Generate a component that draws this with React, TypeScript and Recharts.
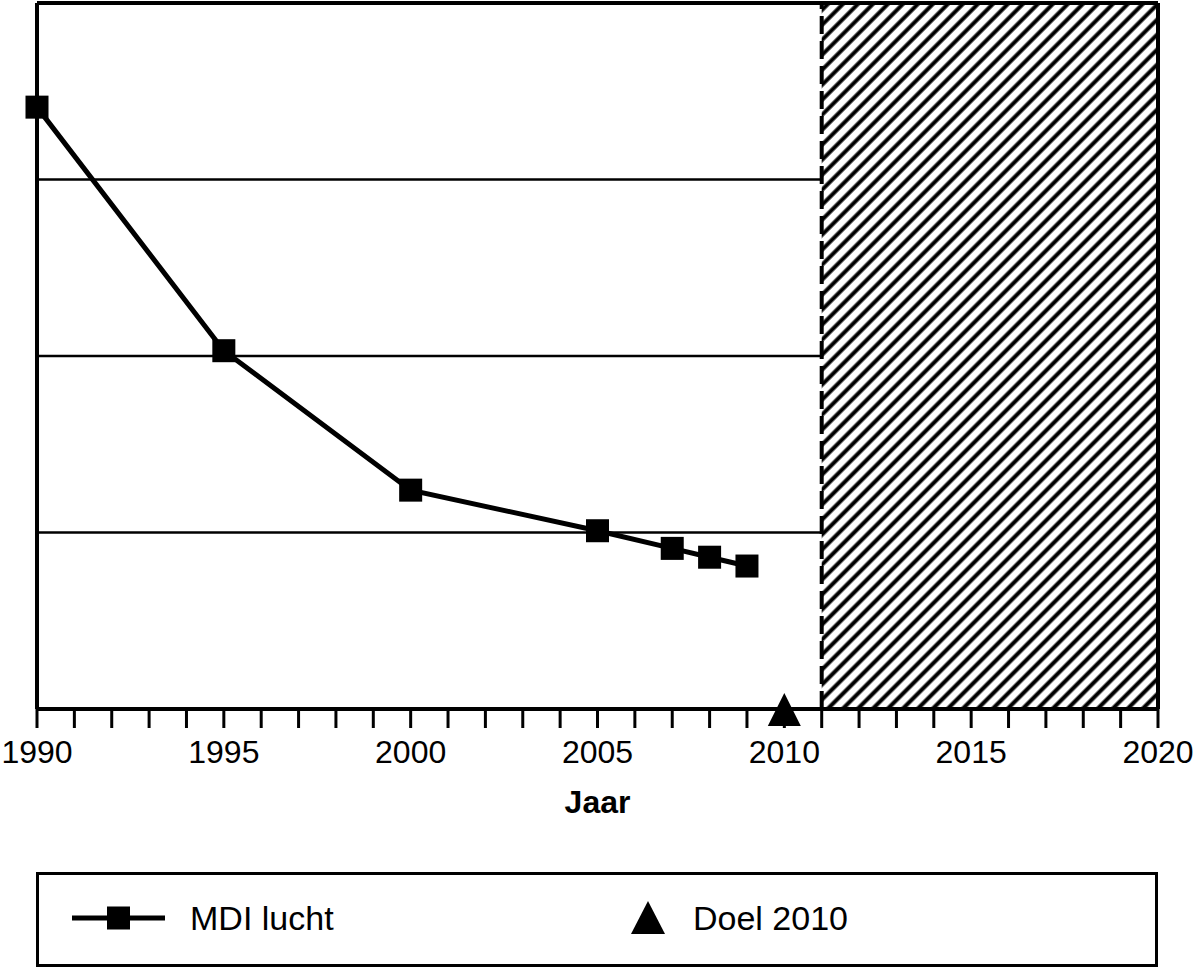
import { ComposedChart, Line, Scatter, XAxis, YAxis, CartesianGrid, ReferenceArea, ReferenceLine, Legend } from 'recharts'

// MDI lucht, gemeten jaren
const mdiYears = [1990, 1995, 2000, 2005, 2007, 2008, 2009]
const mdiValues = [3.41, 2.03, 1.24, 1.01, 0.91, 0.86, 0.81]

// doelstelling
const doelYears = [2010]
const doelValues = [0]

const yearTicks = Array.from({ length: 31 }, (_, i) => 1990 + i)
const gridTicks = [0, 1, 2, 3, 4]

const FONT = '"Liberation Sans", Arial, sans-serif'

const mdiData = mdiYears.map((year, i) => ({ year, mdi: mdiValues[i] }))
const doelData = doelYears.map((year, i) => ({ year, doel: doelValues[i] }))

const SquareDot = (props: { cx?: number; cy?: number; index?: number }) => {
  const { cx = 0, cy = 0, index } = props
  return <rect key={`sq-${index}`} x={cx - 11.5} y={cy - 11.5} width={23} height={23} fill="#000" />
}

const Triangle = (props: { cx?: number; cy?: number }) => {
  const { cx = 0, cy = 0 } = props
  return <polygon points={`${cx},${cy - 16} ${cx - 16.5},${cy + 17} ${cx + 16.5},${cy + 17}`} fill="#000" />
}

const LegendBox = () => (
  <div
    style={{
      position: 'relative',
      height: 95,
      boxSizing: 'border-box',
      border: '3px solid #000',
      fontFamily: FONT,
      fontSize: 34,
      color: '#000',
    }}
  >
    <svg width={95} height={30} style={{ position: 'absolute', left: 33, top: 28 }}>
      <line x1={0} y1={15} x2={93} y2={15} stroke="#000" strokeWidth={5} />
      <rect x={35} y={3.5} width={23} height={23} fill="#000" />
    </svg>
    <span style={{ position: 'absolute', left: 151, top: 24, lineHeight: '38px' }}>MDI lucht</span>
    <svg width={34} height={34} style={{ position: 'absolute', left: 592, top: 26 }}>
      <polygon points="17,0 0,33 34,33" fill="#000" />
    </svg>
    <span style={{ position: 'absolute', left: 654, top: 24, lineHeight: '38px' }}>Doel 2010</span>
  </div>
)

export default function App() {
  return (
    <div style={{ position: 'absolute', left: 0, top: 0 }}>
      <ComposedChart
        width={1196}
        height={969}
        margin={{ top: 3, right: 38, bottom: 2, left: 36 }}
        style={{ fontFamily: FONT }}
      >
        <defs>
          <pattern id="hatch" patternUnits="userSpaceOnUse" width={10.6} height={10.6} patternTransform="rotate(45)">
            <rect width={10.6} height={10.6} fill="#fff" />
            <line x1={5.3} y1={0} x2={5.3} y2={10.6} stroke="#000" strokeWidth={4} />
          </pattern>
        </defs>
        <CartesianGrid vertical={false} stroke="#000" strokeWidth={2.5} />
        <XAxis
          type="number"
          dataKey="year"
          domain={[1990, 2020]}
          ticks={yearTicks}
          interval={0}
          height={163}
          tickSize={19}
          tickMargin={12}
          axisLine={{ stroke: '#000', strokeWidth: 4 }}
          tickLine={{ stroke: '#000', strokeWidth: 3 }}
          tick={{ fill: '#000', fontSize: 32, fontFamily: FONT }}
          tickFormatter={(v: number) => (v % 5 === 0 ? String(v) : '')}
          label={{ value: 'Jaar', position: 'insideTop', offset: 81, fill: '#000', fontSize: 32, fontWeight: 'bold', fontFamily: FONT }}
        />
        <YAxis
          type="number"
          domain={[0, 4]}
          ticks={gridTicks}
          width={1}
          tick={{ fill: 'none', fontSize: 1 }}
          tickLine={false}
          axisLine={{ stroke: '#000', strokeWidth: 4 }}
          tickFormatter={() => ''}
        />
        <ReferenceArea x1={2011} x2={2020} y1={0} y2={4} fill="url(#hatch)" fillOpacity={1} stroke="none" />
        <ReferenceLine x={2011} stroke="#000" strokeWidth={4} strokeDasharray="18 7" />
        <ReferenceLine x={2020} stroke="#000" strokeWidth={4} />
        <ReferenceLine y={4} stroke="#000" strokeWidth={4} />
        <Line
          data={mdiData}
          dataKey="mdi"
          stroke="#000"
          strokeWidth={5}
          dot={<SquareDot />}
          activeDot={false}
          isAnimationActive={false}
        />
        <Scatter data={doelData} dataKey="doel" shape={<Triangle />} isAnimationActive={false} />
        <Legend verticalAlign="bottom" content={() => <LegendBox />} />
      </ComposedChart>
    </div>
  )
}
